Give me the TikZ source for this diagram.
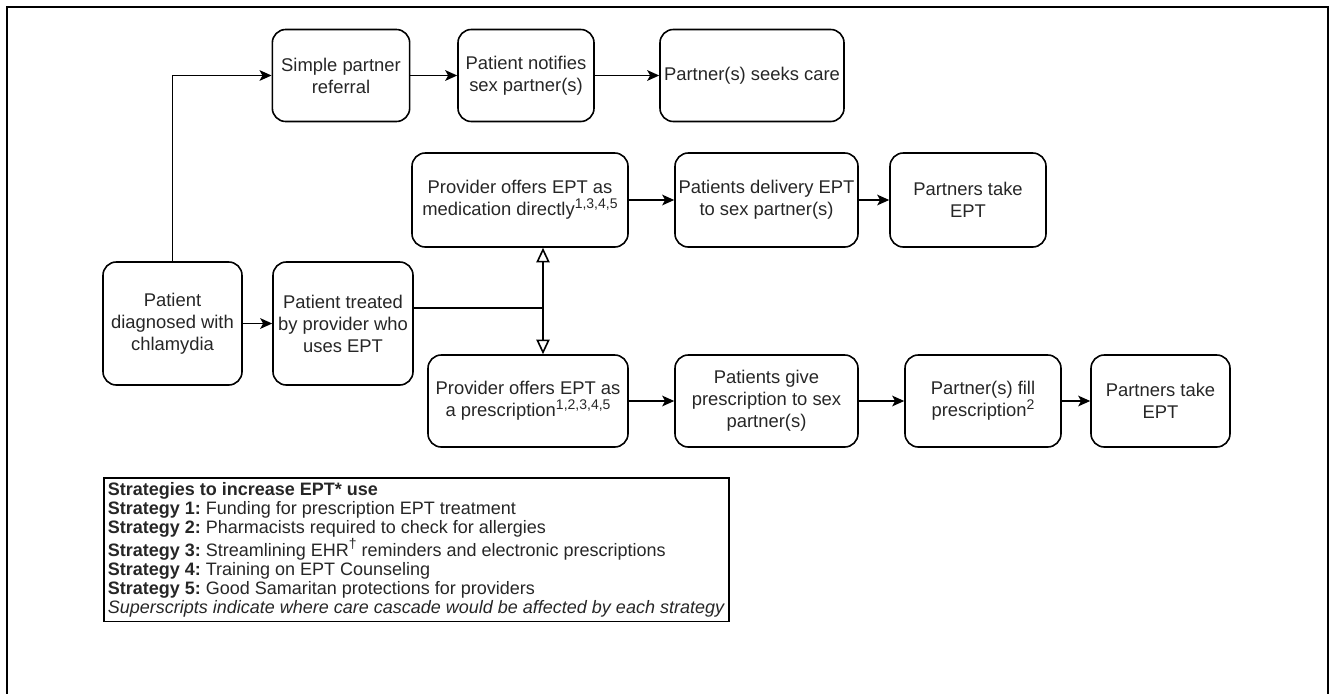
\documentclass[tikz,border=0pt]{standalone}
\usepackage{fontspec}
\setmainfont{Liberation Sans}
\usetikzlibrary{arrows.meta}
\newcommand\supr[1]{\raisebox{0.42em}{\fontsize{10.5}{10.5}\selectfont #1}}
\tikzset{
  box/.style={draw, rounded corners=10pt, line width=1.2pt, align=center,
    font=\fontsize{13.8}{16.5}\selectfont, text=black!85, inner sep=0pt},
  arr/.style={line width=1.2pt, -{Stealth[length=9pt,width=8pt,inset=2.2pt]}},
  oarr/.style={line width=1.2pt, -{Triangle[open,length=11pt,width=10pt]}},
  legendbox/.style={draw, line width=1.2pt, inner xsep=3pt, inner ysep=3.5pt,
    align=left, font=\fontsize{13.5}{14.2}\selectfont\frenchspacing, text=black!85},
  frame/.style={line width=2.2pt}
}
\begin{document}
\begin{tikzpicture}[x=0.75pt,y=-0.75pt]
\useasboundingbox (0,0) rectangle (1330,693);
\draw[frame] (7,700) -- (7,7) -- (1328,7) -- (1328,700);

\node[box, minimum width=104.25pt, minimum height=92.25pt] (diag) at (172.5,323.5) {Patient\\diagnosed with\\chlamydia};
\node[box, minimum width=105pt, minimum height=92.25pt] (treat) at (343,323.5) {Patient treated\\by provider who\\uses EPT};
\node[box, minimum width=103pt, minimum height=69pt] (simple) at (341,75.5) {Simple partner\\referral};
\node[box, minimum width=102pt, minimum height=69pt] (notif) at (526,75.5) {Patient notifies\\sex partner(s)};
\node[box, minimum width=138pt, minimum height=69pt] (seeks) at (752,75.5) {Partner(s) seeks care};
\node[box, minimum width=162pt, minimum height=70.5pt] (direct) at (520,200) {Provider offers EPT as\\medication directly\supr{1,3,4,5}};
\node[box, minimum width=137.25pt, minimum height=70.5pt] (deliv) at (766.5,200) {Patients delivery EPT\\to sex partner(s)};
\node[box, minimum width=117pt, minimum height=70.5pt] (take1) at (968,200) {Partners take\\EPT};
\node[box, minimum width=150pt, minimum height=69pt] (presc) at (528,401) {Provider offers EPT as\\a prescription\supr{1,2,3,4,5}};
\node[box, minimum width=137.25pt, minimum height=69pt] (give) at (766.5,401) {Patients give\\prescription to sex\\partner(s)};
\node[box, minimum width=117pt, minimum height=69pt] (fill) at (983,401) {Partner(s) fill\\prescription\supr{2}};
\node[box, minimum width=104.25pt, minimum height=69pt] (take2) at (1160.5,401) {Partners take\\EPT};

\coordinate (junc) at (543,308);

\draw[arr] (diag) -- (treat);
\draw[arr] (diag.north) |- (simple.west);
\draw[arr] (simple) -- (notif);
\draw[arr] (notif) -- (seeks);
\draw[line width=1.2pt] (treat.east |- junc) -- (junc);
\draw[oarr] (junc) -- (direct.south -| junc);
\draw[oarr] (junc) -- (presc.north -| junc);
\draw[arr] (direct) -- (deliv);
\draw[arr] (deliv) -- (take1);
\draw[arr] (presc) -- (give);
\draw[arr] (give) -- (fill);
\draw[arr] (fill) -- (take2);

\node[legendbox, anchor=north west] (leg) at (103,477) {%
\textbf{Strategies to increase EPT* use}\\
\textbf{Strategy 1:} Funding for prescription EPT treatment\\
\textbf{Strategy 2:} Pharmacists required to check for allergies\\
\textbf{Strategy 3:} Streamlining EHR\supr{\textdagger} reminders and electronic prescriptions\\
\textbf{Strategy 4:} Training on EPT Counseling\\
\textbf{Strategy 5:} Good Samaritan protections for providers\\
\textit{Superscripts indicate where care cascade would be affected by each strategy}};
\end{tikzpicture}
\end{document}
